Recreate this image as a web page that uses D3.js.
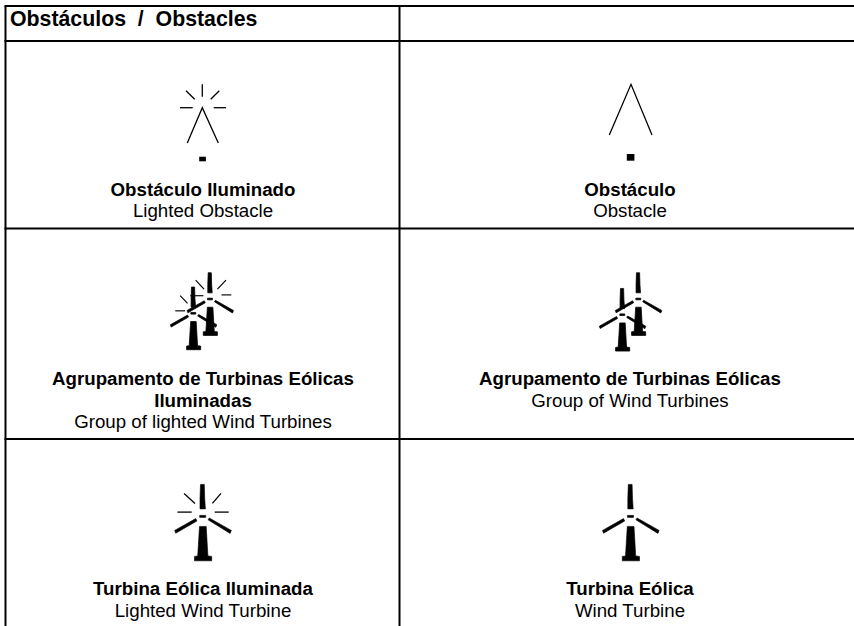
<!DOCTYPE html>
<html><head><meta charset="utf-8">
<style>html,body{margin:0;padding:0;background:#fff}svg{display:block}text{font-family:"Liberation Sans",Arial,sans-serif;fill:#000}</style>
<script src="https://cdn.jsdelivr.net/npm/d3@7/dist/d3.min.js"></script>
</head><body><svg id="c" width="854" height="626"></svg>
<script>
const heading = "Obstáculos  /  Obstacles";
const titles = [
  ["Obstáculo Iluminado"],["Obstáculo"],
  ["Agrupamento de Turbinas Eólicas","Iluminadas"],["Agrupamento de Turbinas Eólicas"],
  ["Turbina Eólica Iluminada"],["Turbina Eólica"]];
const subtitles = ["Lighted Obstacle","Obstacle","Group of lighted Wind Turbines","Group of Wind Turbines","Lighted Wind Turbine","Wind Turbine"];
const columns = [0,1,0,1,0,1];
const rows = [0,0,1,1,2,2];

// symbol geometry, in symbol units around a hub/apex
const upBlade=[[-2.2,-32],[1.6,-32],[2,-18],[2.7,-7.5],[-2.7,-7.5],[-2.7,-18]];
const hubBar=[[-3,-1],[3,-1],[3,1],[-3,1]];
const leftBlade=[[-28,14],[-7,2.2],[-5.8,4.6],[-27,16.8]];
const rightBlade=[[5.4,3.4],[6.6,1.6],[28.6,14],[27.4,17]];
const towerShape=[[-3.2,10],[3.5,10],[5.2,39.5],[9,40],[9,44.4],[-8.2,44.4],[-8.2,40],[-5,39.5]];
const turbineParts=[upBlade,hubBar,leftBlade,rightBlade,towerShape];
const chevron=[[-15,35.3],[0,0],[16,35.3]];
const chevronTall=[[-21.7,50.7],[0,0],[21,50.7]];
const obstacleRays=[[[0,-23.4],[0,-11]],[[-16.3,-17],[-7.6,-8.4]],[[17,-17],[8.4,-8.4]],[[-22.3,0],[-9.6,0]],[[11.4,0],[23.7,0]]];
const turbineRays=[[[-18.6,-23],[-7.7,-13]],[[18.3,-23],[9.7,-13]],[[-25.3,-4.3],[-11,-4.3]],[[12,-4.3],[26,-4.3]]];
const rearRays=[[[-17.5,-23],[-7.3,-12]],[[19.5,-23],[9,-12]],[[14,-5],[26,-5]],[[-24,-4],[-8,-4]]];
const frontRays=[[[-16,-21.5],[-7,-12]],[[-22,-3],[-10,-3]]];
const foot=[[-3.4,-2],[3.3,-2],[3.3,2.6],[-3.4,2.6]];
const footLarge=[[-3.7,-3.4],[3.9,-3.4],[3.9,3.3],[-3.7,3.3]];

const W=854,H=626,svg=d3.select("#c");
const x=d3.scaleOrdinal().domain([0,1]).range([203,630]);
const firstBaseline=d3.scaleOrdinal().domain([0,1,2]).range([196,385.3,595.3]);
const lh=21.3;
const line=d3.line(), poly=d3.line().curve(d3.curveLinearClosed);

// grid
const hLines=[6,41,228.5,439], vLines=[[5.5,6,H],[399.5,6,H]];
svg.selectAll(".h").data(hLines).join("line").attr("x1",4.5).attr("x2",W).attr("y1",d=>d).attr("y2",d=>d).attr("stroke","#000").attr("stroke-width",2);
svg.selectAll(".v").data(vLines).join("line").attr("x1",d=>d[0]).attr("x2",d=>d[0]).attr("y1",d=>d[1]).attr("y2",d=>d[2]).attr("stroke","#000").attr("stroke-width",2);

svg.append("text").attr("x",10).attr("y",26).attr("font-size",21.3).attr("font-weight","bold").style("white-space","pre").text(heading);

// text
titles.forEach((t,i)=>{
  const g=svg.append("g").attr("text-anchor","middle").attr("font-size",18.7);
  const y0=firstBaseline(rows[i]);
  t.forEach((s,k)=>g.append("text").attr("x",x(columns[i])).attr("y",y0+k*lh).attr("font-weight","bold").text(s));
  g.append("text").attr("x",x(columns[i])).attr("y",y0+t.length*lh).text(subtitles[i]);
});

function strokes(g,data,w){g.selectAll(null).data(data).join("path").attr("d",d=>line(d)).attr("fill","none").attr("stroke","#000").attr("stroke-width",w);}
function fills(g,data,w){g.selectAll(null).data(data).join("path").attr("d",d=>poly(d)).attr("fill","#000").attr("stroke","#000").attr("stroke-width",w||0).attr("stroke-linejoin","round");}
function place(cx,cy,s){return svg.append("g").attr("transform",`translate(${cx},${cy}) scale(${s})`);}

// obstacles
let g=place(202.3,107.7,1); strokes(g,[chevron],1.3); strokes(g,obstacleRays,1.3); g=place(202.6,158.7,1); fills(g,[foot]);
g=place(631,84.3,1); strokes(g,[chevronTall],1.3); g=place(630.5,157.4,1); fills(g,[footLarge]);
// groups
g=place(210,299,.82); fills(g,turbineParts,.9); strokes(g,rearRays,1.4);
g=place(193.3,313.3,.82); fills(g,turbineParts,.9); strokes(g,frontRays,1.4);
g=place(638.3,299,.82); fills(g,turbineParts,.9);
g=place(622.3,314.7,.82); fills(g,turbineParts,.9);
// singles
g=place(202.7,516.4,1); fills(g,turbineParts,.6); strokes(g,turbineRays,1.3);
g=place(630.5,516.4,1); fills(g,turbineParts,.6);
</script></body></html>
